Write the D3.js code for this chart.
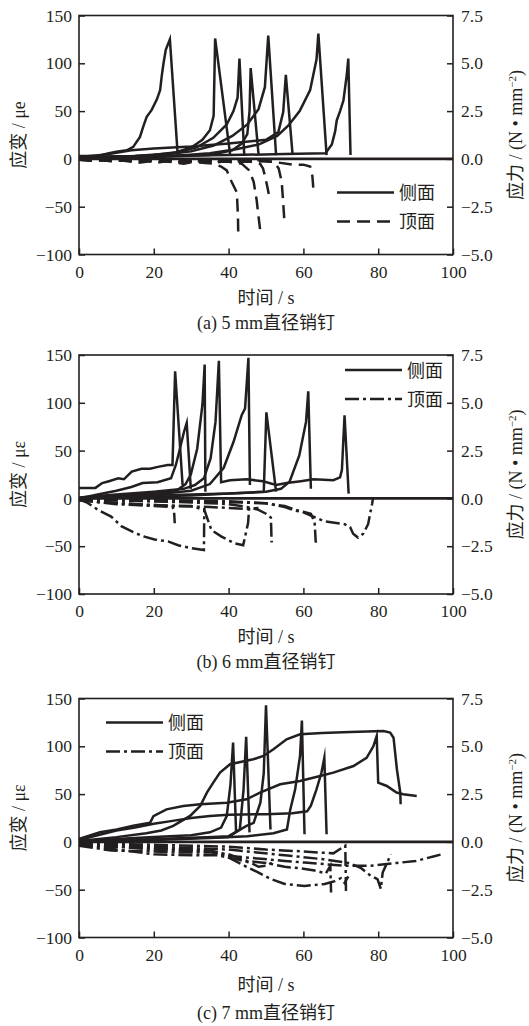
<!DOCTYPE html>
<html>
<head>
<meta charset="utf-8">
<script src="https://cdn.jsdelivr.net/npm/d3@7"></script>
<style>
    body { margin: 0; background: #fff; }
    svg text { font-family: "Liberation Serif", "Noto Sans CJK SC", serif; fill: #231f20; }
</style>
</head>
<body>
<svg id="chart" width="529" height="1026"></svg>
<script>
// ticks and labels
const timeTicks = [0, 20, 40, 60, 80, 100];
const strainTicks = [-100, -50, 0, 50, 100, 150];
const stressTicks = [-5, -2.5, 0, 2.5, 5, 7.5];
const legendNames = ["侧面", "顶面"];
const captions = ["(a) 5 mm直径销钉", "(b) 6 mm直径销钉", "(c) 7 mm直径销钉"];
const strainTitles = ["应变 / μe", "应变 / με", "应变 / με"];
const zeroLine = [[0, 0], [100, 0]];

// (a) 5 mm, side face (solid), [time s, strain]
const aSide = [
    [[0,3],[5,3],[8,6],[10,7.5],[12.8,9],[14.5,12.6],[16.3,23],[17.2,34],[18.1,44],[19.4,51],[20.8,62],[21.7,72],[22.1,86],[22.6,100],[23.2,114],[24.3,125],[26.4,4]],
    [[0,1],[10,2],[20,4],[26,7],[30,12],[33,20],[35,30],[36,45],[36.4,126],[40.4,5]],
    [[0,2],[15,3],[25,6],[31.5,12],[35.9,22],[39.5,36],[41.3,50],[42.4,64],[42.9,105],[44.2,3]],
    [[0,1],[20,2],[35,4],[41,9],[43.5,16],[45,26],[45.6,50],[45.9,95],[48,5]],
    [[0,1],[20,3],[30,8],[36,14],[41,24],[45,36],[48,52],[49.7,75],[50.6,129],[52.7,4]],
    [[0,2],[8,5],[14,9],[20,11],[30,13],[40,16],[50,20],[53.3,28],[54.6,49],[55.3,88],[57.1,5]],
    [[0,1],[25,3],[35,6],[42,10],[48,15],[53,24],[56,35],[59,50],[61.8,72],[63.5,104],[64,131],[66.2,4]],
    [[0,2],[20,3],[40,4],[55,5],[65.9,6],[67.6,15],[68.5,29],[68.9,40],[69.8,50],[70.7,61],[71.6,88],[72,105],[72.6,4]]
];
// (a) 5 mm, top face (dashed)
const aTop = [
    [[0,-1],[3,-2],[6,-1],[9,-3],[12,-1],[15,-3],[18,-2],[21,-4],[24,-2],[27,-3],[30,-1],[33,-3],[36,-2],[39,-3],[42,-1],[45,-2],[48,-1],[50,-1]],
    [[0,0],[4,-2],[8,-1],[12,-2],[16,-4],[20,-2],[24,-3],[28,-5],[32,-2],[36,-4],[40,-2],[44,-3],[48,-2]],
    [[0,-1],[10,-2],[20,-2],[30,-3],[36,-5],[38,-8],[39.5,-12],[40.8,-24],[42.2,-35],[42.5,-60],[42.6,-82]],
    [[0,-1],[15,-2],[30,-2],[40,-3],[43.5,-5],[45.5,-12],[46.7,-24],[47.5,-43],[48,-60],[48.6,-80]],
    [[0,0],[20,-1],[40,-2],[46,-3],[48.4,-5],[49.2,-10],[49.8,-19],[50.4,-30],[50.9,-40]],
    [[0,-1],[30,-2],[45,-2],[52,-3],[53.4,-10],[54.2,-24],[54.5,-40],[54.9,-64]],
    [[0,0],[30,-1],[50,-2],[57.3,-6],[60,-6],[61.8,-8],[62.4,-18],[62.7,-33]]
];

// (b) 6 mm, side face (solid)
const bSide = [
    [[0,11],[4.4,11],[6.2,16],[8,18],[10.5,21],[12,20],[14.1,28],[16.7,31],[19,31],[21.1,33],[23.7,35],[25,35],[25.7,133],[27.7,14]],
    [[0,0],[5,4],[10,8],[14,12],[17,16],[21,17],[24.6,21],[25.9,35],[26.8,49],[28.1,70],[28.8,79],[29.9,10]],
    [[0,0],[10,3],[20,5],[26,8],[28.5,15],[29.9,25],[31.6,52],[33,98],[33.6,140],[33.8,7]],
    [[0,1],[10,4],[20,7],[28,10],[31,14],[33.4,21],[35.2,42],[36.5,80],[37.4,144],[38,17],[40.4,19],[44.8,20],[49.2,18],[52.7,14],[55.5,16],[59.3,18],[62.7,20],[68,19],[69.8,22],[70.3,30],[71,87],[72.1,5]],
    [[0,0],[10,2],[20,4],[30,8],[35,15],[38.7,32],[41.3,59],[43.5,87],[44.4,94],[45.3,147],[45.7,14]],
    [[0,0],[15,2],[30,3],[40,5],[45,6],[49.4,7],[50.1,90],[52.7,7]],
    [[0,0],[20,3],[40,5],[50,7],[54,10],[56.3,17.5],[58.9,45],[60.7,80],[61.3,112],[62,10]]
];
// (b) 6 mm, top face (dash-dot)
const bTop = [
    [[0,-1],[2,-4],[5.1,-12],[8.6,-19],[11.3,-29],[14.9,-36],[17.5,-40],[20.2,-43],[23.8,-45],[26.5,-49],[30,-52],[33.4,-54],[33.5,-10]],
    [[0,-2],[10,-5],[20,-7],[30,-8],[33.5,-12],[35.4,-33],[38.1,-40],[41.6,-47],[43.9,-49],[45.2,-26],[45.5,-10]],
    [[0,-1],[5,-4],[10,-6],[15,-7],[20,-8],[25,-9],[25.4,-12],[25.6,-26]],
    [[0,-2],[15,-6],[25,-8],[35,-9],[40,-10],[45,-11],[48,-10]],
    [[0,-1],[20,-3],[40,-4],[49.6,-5],[55,-8],[60.3,-15],[65.6,-24],[71,-27],[72.5,-30],[73.3,-37],[74.6,-41],[76,-37],[77.3,-27],[78.4,-5],[78.6,0]],
    [[0,-1],[20,-3],[35,-5],[40,-6],[45,-9],[48,-12],[50,-16],[51.3,-20],[51.4,-32],[51.5,-46],[51.6,-44]],
    [[0,-1],[25,-2],[40,-3],[50,-5],[55,-9],[58,-13],[60,-14],[62,-16],[63,-25],[63.3,-46],[63.5,-44]]
];

// (c) 7 mm, side face (solid)
const cSide = [
    [[0,3],[5.6,10],[10.1,13],[14.5,17],[19,20],[19.9,27],[23.4,34],[27.9,37.6],[32.4,39.4],[39.5,41],[44.8,44.6],[48.4,51.6],[53.8,60.3],[59.1,63.8],[64.5,69],[68,72.5],[73.4,79.4],[76.9,88],[78.7,100],[79.6,110.8],[80,62],[82.3,58.5],[84.9,51.6],[86.7,49.8],[90.3,48]],
    [[0,1],[10,5],[18,9],[22,12],[25.2,16.7],[29.7,27.2],[32.4,37.6],[34.2,51.6],[35.9,62],[37.7,72.5],[40.4,81.2],[46.6,86.4],[49.3,89.9],[52,96.9],[55.5,107.3],[59.1,112.5],[65,114],[72.5,115],[81.4,116],[83.2,114.3],[84.1,109],[85,76],[85.9,51.6],[86,39.4]],
    [[0,2],[5,7],[10,12],[15,15],[20,19],[25,22],[30,25],[35,27],[40,28.5],[50,29],[57,30],[61,32],[62,38],[63.5,55],[64.8,72],[65.6,88],[66.2,8]],
    [[0,0],[10,3],[20,5],[30,7],[35,10],[38,15],[39.5,27],[40.5,60],[41.2,104],[42,10]],
    [[0,0],[15,2],[30,4],[40,5],[43,13],[44,55],[44.7,110],[45.6,10]],
    [[0,0],[15,2],[30,4],[40,6],[44.8,16.7],[46.7,20],[48.5,41],[49.4,72],[50,143],[51.2,13]],
    [[0,0],[20,2],[35,4],[45,6],[52,9],[55.6,13],[56.5,34],[57.8,55],[59.1,90],[59.6,127],[60.3,8]]
];
// (c) 7 mm, top face (dash-dot)
const cTop = [
    [[0,-4],[8.6,-9],[20,-10],[26.5,-11],[35.4,-11],[39.8,-16],[44.3,-25],[47.9,-32],[51.4,-39],[55,-44],[60.3,-46],[65.7,-44],[68.4,-41],[70,-38],[71,-43],[72,-36]],
    [[0,-3],[8,-5],[17.6,-6],[28,-8],[35.4,-9],[39.8,-14.6],[44,-16],[49.6,-18],[55,-20],[60.3,-21.6],[65.7,-23.3],[71,-25],[78,-25],[85,-22],[90,-20],[95,-15],[97,-13]],
    [[0,-2],[10,-5],[20,-8],[35,-10],[40,-13],[45,-20],[50,-22],[55,-26],[60,-28],[63,-30],[66,-33],[67.2,-25],[67.4,-53]],
    [[0,-1],[20,-3],[40,-5],[50,-8],[60,-10],[68,-12],[71.2,-4],[71.4,-55]],
    [[0,-2],[20,-5],[40,-8],[55,-14],[65,-18],[72,-22],[75.3,-27],[78,-35.5],[79.8,-39],[80.7,-49],[81.2,-32],[83.4,-13]],
    [[0,-3],[10,-8],[20,-13],[30,-14],[37,-14],[42,-18],[46,-22],[48,-26],[50,-25],[52,-21]]
];

var svg = d3.select("#chart");
var left = 79, right = 453, plotH = 239;
var ink = "#231f20";

var panels = [
    { top: 15.5, side: aSide, face: aTop, dash: "13,7", cap: captions[0], ytitle: strainTitles[0],
      leg: [258, 177], off: [23.5, 49, 74] },
    { top: 355, side: bSide, face: bTop, dash: "14,4,3,4", cap: captions[1], ytitle: strainTitles[1],
      leg: [266, 15], off: [23.5, 49, 74] },
    { top: 698.5, side: cSide, face: cTop, dash: "14,4,3,4", cap: captions[2], ytitle: strainTitles[2],
      leg: [27, 24], off: [25, 53, 81.5] }
];

panels.forEach(function (p) {
    var x = d3.scaleLinear().domain([0, 100]).range([left, right]);
    var y = d3.scaleLinear().domain([-100, 150]).range([p.top + plotH, p.top]);
    var y2 = d3.scaleLinear().domain([-5, 7.5]).range([p.top + plotH, p.top]);
    var bottom = p.top + plotH;

    var line = d3.line().x(d => x(d[0])).y(d => y(d[1]));

    var g = svg.append("g");

    // top face curves
    g.selectAll(".face")
        .data(p.face)
        .enter().append("path")
        .attr("d", line)
        .attr("fill", "none")
        .attr("stroke", ink)
        .attr("stroke-width", 2.5)
        .attr("stroke-dasharray", p.dash);

    // side face curves
    g.selectAll(".side")
        .data(p.side)
        .enter().append("path")
        .attr("d", line)
        .attr("fill", "none")
        .attr("stroke", ink)
        .attr("stroke-width", 2.5)
        .attr("stroke-linejoin", "miter")
        .attr("stroke-miterlimit", 10);

    g.append("path")
        .attr("d", line(zeroLine))
        .attr("fill", "none")
        .attr("stroke", ink)
        .attr("stroke-width", 2.6);

    // axes, ticks point inward
    var xa = g.append("g")
        .attr("transform", "translate(0," + bottom + ")")
        .call(d3.axisBottom(x).tickValues(timeTicks).tickSizeInner(-6).tickSizeOuter(0).tickPadding(11));
    var ya = g.append("g")
        .attr("transform", "translate(" + left + ",0)")
        .call(d3.axisLeft(y).tickValues(strainTicks).tickSizeInner(-6).tickSizeOuter(0).tickPadding(7));
    var y2a = g.append("g")
        .attr("transform", "translate(" + right + ",0)")
        .call(d3.axisRight(y2).tickValues(stressTicks).tickSizeInner(-6).tickSizeOuter(0).tickPadding(8)
            .tickFormat(d3.format(".1f")));
    [xa, ya, y2a].forEach(function (a) {
        a.attr("font-family", null).attr("font-size", null);
        a.select(".domain").remove();
        a.selectAll("line").attr("stroke", ink).attr("stroke-width", 1.5);
        a.selectAll("text").attr("font-size", 17.5).attr("fill", ink);
    });

    g.append("rect")
        .attr("x", left).attr("y", p.top)
        .attr("width", right - left).attr("height", plotH)
        .attr("fill", "none").attr("stroke", ink).attr("stroke-width", 1.6);

    // titles
    g.append("text")
        .attr("x", (left + right) / 2).attr("y", bottom + p.off[1])
        .attr("text-anchor", "middle").attr("font-size", 18)
        .text("时间 / s");
    g.append("text")
        .attr("x", (left + right) / 2).attr("y", bottom + p.off[2])
        .attr("text-anchor", "middle").attr("font-size", 18)
        .text(p.cap);
    g.append("text")
        .attr("transform", "translate(25," + (p.top + plotH / 2) + ") rotate(-90)")
        .attr("text-anchor", "middle").attr("font-size", 18)
        .text(p.ytitle);
    var rt = g.append("text")
        .attr("transform", "translate(522," + (p.top + plotH / 2) + ") rotate(-90)")
        .attr("text-anchor", "middle").attr("font-size", 18);
    rt.append("tspan").text("应力 / (N • mm");
    rt.append("tspan").attr("baseline-shift", "super").attr("font-size", 11).text("−2");
    rt.append("tspan").text(")");

    // legend
    legendNames.forEach(function (name, i) {
        var lx = left + p.leg[0], ly = p.top + p.leg[1] + i * 29;
        g.append("line")
            .attr("x1", lx).attr("x2", lx + 57)
            .attr("y1", ly).attr("y2", ly)
            .attr("stroke", ink).attr("stroke-width", 2.5)
            .attr("stroke-dasharray", i === 0 ? null : p.dash);
        g.append("text")
            .attr("x", lx + 62).attr("y", ly + 6.5)
            .attr("font-size", 18)
            .text(name);
    });
});
</script>
</body>
</html>
